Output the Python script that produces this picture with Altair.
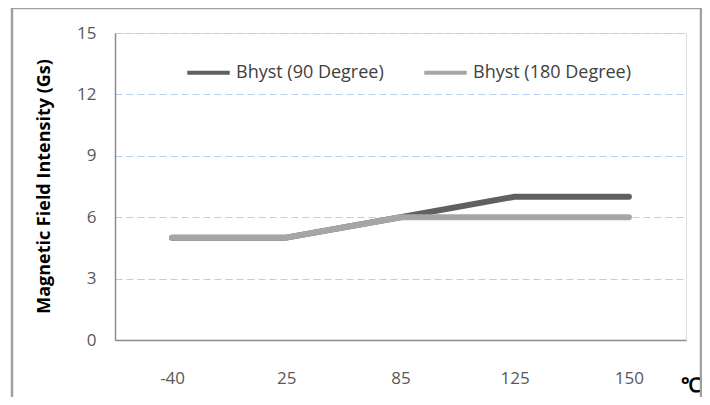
import altair as alt
import pandas as pd

temps = ["-40", "25", "85", "125", "150"]
b90 = [5, 5, 6, 7, 7]
b180 = [5, 5, 6, 6, 6]
s90 = "Bhyst (90 Degree)"
s180 = "Bhyst (180 Degree)"

df90 = pd.DataFrame({"t": temps, "v": b90, "s": s90})
df180 = pd.DataFrame({"t": temps, "v": b180, "s": s180})

FONT = "Open Sans"
W, H = 571, 307

xenc = alt.X("t:N", sort=temps, title=None,
             scale=alt.Scale(paddingInner=0, paddingOuter=0),
             axis=alt.Axis(labelAngle=0, ticks=False, domainColor="#8c8c8c", domainWidth=1.5,
                           labelPadding=30, labelFont=FONT, labelFontSize=17,
                           labelColor="#595959", grid=False))
yenc = alt.Y("v:Q", title="Magnetic Field Intensity (Gs)",
             scale=alt.Scale(domain=[0, 15], nice=False),
             axis=alt.Axis(values=[0, 3, 6, 9, 12, 15], ticks=False, domainColor="#8c8c8c",
                           domainWidth=1.5, labelPadding=19, labelFont=FONT, labelFontSize=17,
                           labelColor="#595959", grid=True, gridColor="#b8cff0",
                           gridDash=[7, 4], gridWidth=1.2,
                           titleFont=FONT, titleFontSize=18, titleFontWeight="bold",
                           titleColor="#000000", titleX=-71, titleY=153,
                           titleAlign="center", titleBaseline="middle", titleAngle=270))
color = alt.Color("s:N", scale=alt.Scale(domain=[s90, s180], range=["#606060", "#a6a6a6"]),
                  legend=alt.Legend(title=None, orient="none", legendX=70, legendY=16,
                                    direction="horizontal", symbolType="stroke",
                                    symbolSize=1800, symbolStrokeWidth=4,
                                    labelFont=FONT, labelFontSize=18, labelColor="#404040",
                                    labelOffset=4, columnPadding=32))

line90 = alt.Chart(df90).mark_line(strokeWidth=6, strokeCap="round", strokeJoin="round").encode(
    x=xenc, y=yenc, color=color)
line180 = alt.Chart(df180).mark_line(strokeWidth=6, strokeCap="round", strokeJoin="round").encode(
    x=xenc, y=yenc, color=color)

unit = alt.Chart(pd.DataFrame({"u": ["℃"]})).mark_text(
    font=FONT, fontSize=20, fontWeight="bold", color="#000000", align="center", baseline="middle"
).encode(x=alt.value(576), y=alt.value(353), text="u:N")

bc = "#a0a0a0"
dummy = pd.DataFrame({"a": [0]})
borders = [
    alt.Chart(dummy).mark_rule(color=bc, strokeWidth=2.5).encode(x=alt.value(-103), x2=alt.value(-103), y=alt.value(-25), y2=alt.value(400)),
    alt.Chart(dummy).mark_rule(color=bc, strokeWidth=2.5).encode(x=alt.value(-112), x2=alt.value(-112), y=alt.value(-40), y2=alt.value(400)),
    alt.Chart(dummy).mark_rule(color=bc, strokeWidth=2.5).encode(x=alt.value(586), x2=alt.value(586), y=alt.value(-25), y2=alt.value(400)),
    alt.Chart(dummy).mark_rule(color=bc, strokeWidth=2.5).encode(x=alt.value(-104), x2=alt.value(587), y=alt.value(-25), y2=alt.value(-25)),
]

chart = alt.layer(line90, line180, unit, *borders).properties(
    width=W, height=H,
    autosize=alt.AutoSizeParams(type="none"),
    padding={"left": 107, "top": 25, "right": 16, "bottom": 57},
).configure_view(stroke=None).configure(background="white")

chart.save("out.html", embed_options={"renderer": "svg", "actions": False})
